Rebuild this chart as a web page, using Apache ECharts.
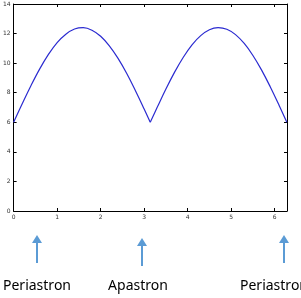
<!DOCTYPE html>
<html>
<head>
<meta charset="utf-8">
<script src="https://cdn.jsdelivr.net/npm/echarts@6/dist/echarts.min.js"></script>
<style>
  html, body { margin: 0; padding: 0; background: #fff; }
  #chart { width: 301px; height: 298px; }
</style>
</head>
<body>
<div id="chart"></div>
<script>
// orbit angle (rad) vs value
const xs = [0, 0.2, 0.4, 0.6, 0.8, 1.0, 1.2, 1.4, 1.6, 1.8, 2.0, 2.2, 2.4, 2.6, 2.8, 3.0, 3.14,
  3.3, 3.5, 3.7, 3.9, 4.1, 4.3, 4.5, 4.7, 4.9, 5.1, 5.3, 5.5, 5.7, 5.9, 6.1, 6.28]
const ys = [6.0, 7.27, 8.49, 9.61, 10.59, 11.39, 11.96, 12.31, 12.4, 12.23, 11.82, 11.17, 10.32, 9.3, 8.14, 6.9, 6.0,
  7.01, 8.25, 9.39, 10.4, 11.24, 11.86, 12.26, 12.4, 12.29, 11.93, 11.33, 10.52, 9.53, 8.39, 7.16, 6.0]
const xTicks = [0, 1, 2, 3, 4, 5, 6]
const yTicks = [0, 2, 4, 6, 8, 10, 12, 14]
const markerNames = ['Periastron', 'Apastron', 'Periastron']

const chart = echarts.init(document.getElementById('chart'))

const pts = xs.map((x, i) => [x, ys[i]])
const cusp = xs.indexOf(3.14)

const axisCommon = {
  axisLine: { show: true, onZero: false, lineStyle: { color: '#000', width: 1 } },
  axisTick: { show: true, inside: true, length: 3, lineStyle: { color: '#000' } },
  splitLine: { show: false },
}
const lbl = { fontSize: 6, color: '#333', fontFamily: 'DejaVu Sans', margin: 3 }

// arrows + words under the plot
const arrowX = [37, 142, 284]
const arrowTop = [235, 238, 235]
const textX = [37, 138, 240]
const graphics = []
arrowX.forEach((x, i) => {
  const t = arrowTop[i]
  graphics.push({
    type: 'line',
    shape: { x1: x, y1: t + 6, x2: x, y2: t + 28 },
    style: { stroke: '#5b9bd5', lineWidth: 2 },
  })
  graphics.push({
    type: 'polygon',
    shape: { points: [[x, t], [x - 5, t + 8], [x + 5, t + 8]] },
    style: { fill: '#5b9bd5' },
  })
  graphics.push({
    type: 'text',
    x: textX[i],
    y: 286,
    style: {
      text: markerNames[i],
      fill: '#000',
      font: '14px "Noto Sans"',
      textAlign: i === 2 ? 'left' : 'center',
      textVerticalAlign: 'middle',
    },
  })
})

chart.setOption({
  backgroundColor: '#fff',
  animation: false,
  grid: { left: 7, right: 14, top: 4, bottom: 87, containLabel: false },
  xAxis: [
    Object.assign({}, axisCommon, {
      type: 'value', min: 0, max: 6.2832, interval: 1, position: 'bottom',
      axisLabel: Object.assign({}, lbl, {
        showMaxLabel: false,
        formatter: (v) => (xTicks.includes(v) ? String(v) : ''),
      }),
    }),
    Object.assign({}, axisCommon, {
      type: 'value', min: 0, max: 6.2832, interval: 1, position: 'top',
      axisLabel: { show: false },
    }),
  ],
  yAxis: [
    Object.assign({}, axisCommon, {
      type: 'value', min: 0, max: 14, interval: 2, position: 'left',
      axisLabel: Object.assign({}, lbl, {
        formatter: (v) => (yTicks.includes(v) ? String(v) : ''),
      }),
    }),
    Object.assign({}, axisCommon, {
      type: 'value', min: 0, max: 14, interval: 2, position: 'right',
      axisLabel: { show: false },
    }),
  ],
  series: [
    {
      type: 'line',
      data: pts.slice(0, cusp + 1),
      smooth: 0.4,
      showSymbol: false,
      lineStyle: { color: '#2a2ad0', width: 1.2 },
      clip: false,
    },
    {
      type: 'line',
      data: pts.slice(cusp),
      smooth: 0.4,
      showSymbol: false,
      lineStyle: { color: '#2a2ad0', width: 1.2 },
      clip: false,
    },
  ],
  graphic: graphics,
})
</script>
</body>
</html>
